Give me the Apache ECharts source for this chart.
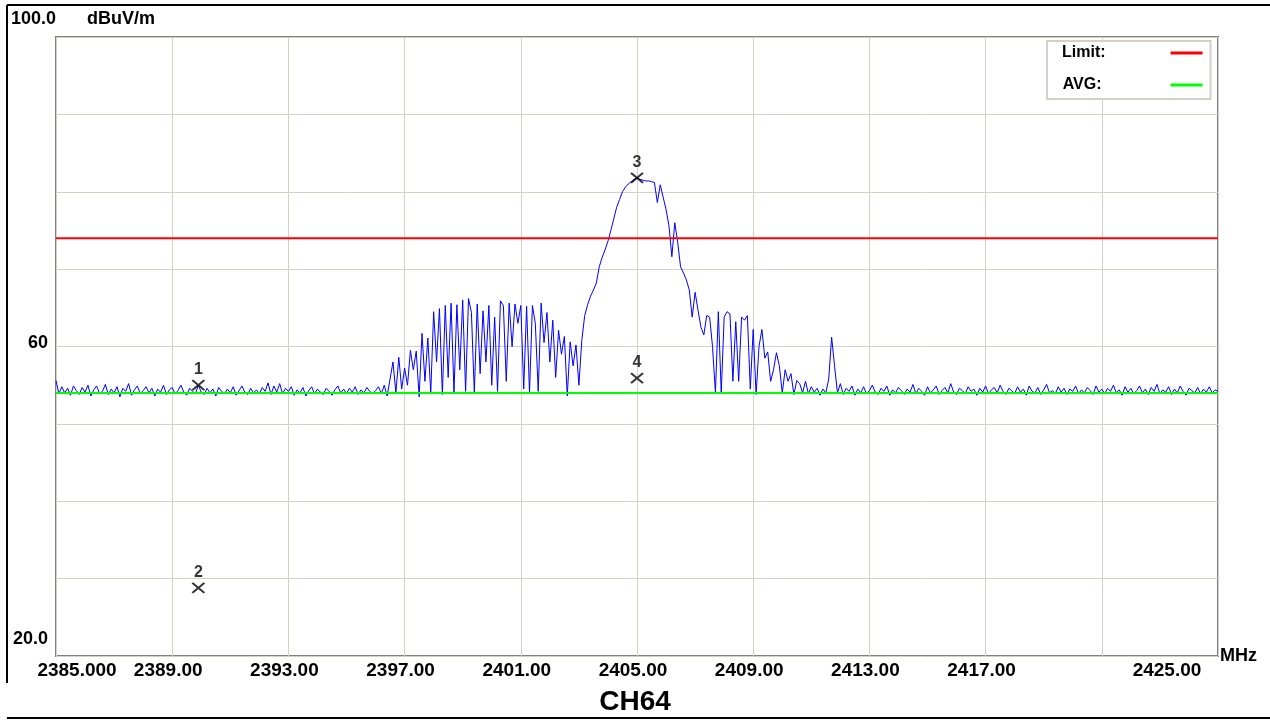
<!DOCTYPE html>
<html>
<head>
<meta charset="utf-8">
<script src="https://cdn.jsdelivr.net/npm/echarts@6/dist/echarts.min.js"></script>
<style>
  html, body { margin: 0; padding: 0; background: #fff; }
  #chart { width: 1270px; height: 720px; }
</style>
</head>
<body>
<div id="chart"></div>
<script>
// sweep is 0.1 MHz per point, split in three pieces
var STEP = 0.1;

// quiet floor, 2385.0 .. 2395.9 MHz
var FLOOR_LEFT_START = 2385.0;
var floorLeft = [
  55.6, 53.9, 54.8, 54.0, 54.6, 53.7, 54.9, 54.3, 53.8, 54.7,
  54.1, 55.0, 53.6, 54.4, 54.9, 53.9, 54.2, 55.1, 53.8, 54.5,
  54.0, 54.8, 53.5, 54.6, 54.2, 55.2, 53.7, 54.4, 54.9, 53.9,
  54.3, 54.8, 54.0, 54.6, 53.6, 54.5, 54.1, 55.0, 53.8, 54.4,
  54.7, 53.9, 54.3, 55.0, 54.1, 53.7, 54.6, 54.2, 53.9, 55.0,
  54.1, 53.8, 54.6, 54.0, 54.5, 53.6, 54.7, 54.2, 53.9, 54.5,
  54.0, 54.8, 53.7, 54.3, 54.9, 54.1, 53.8, 54.6, 54.0, 54.4,
  53.9, 54.7, 54.2, 55.3, 53.8, 54.9, 54.1, 55.2, 53.9, 54.6,
  54.2, 54.8, 53.7, 54.4, 54.0, 54.7, 53.6, 54.3, 54.8, 53.9,
  54.5, 54.1, 53.8, 54.6, 54.2, 53.7, 54.4, 54.9, 54.0, 54.5,
  53.9, 54.6, 54.1, 54.8, 53.8, 54.4, 54.0, 54.7, 54.2, 53.9
];

// occupied band, 2396.0 .. 2412.2 MHz
var ACTIVE_START = 2396.0;
var active = [
  54.3, 54.8, 53.9, 55.0, 53.6, 55.8, 58.0, 54.0, 58.6, 54.5,
  57.2, 55.0, 59.5, 57.0, 59.4, 53.5, 61.7, 55.5, 61.1, 54.0,
  64.5, 58.0, 64.9, 53.8, 65.3, 56.0, 65.6, 54.0, 65.4, 57.0,
  66.0, 54.2, 66.2, 64.4, 54.0, 65.5, 56.5, 64.6, 58.0, 65.3,
  55.0, 63.8, 54.2, 65.9, 65.3, 55.5, 65.6, 60.0, 65.5, 63.0,
  65.3, 54.5, 65.2, 54.0, 65.3, 63.0, 54.2, 65.6, 60.5, 64.4,
  58.0, 63.4, 56.0, 62.1, 59.0, 61.3, 53.6, 60.6, 57.5, 60.2,
  55.0, 60.8, 64.0, 65.4, 66.5, 67.3, 68.2, 70.3, 71.5, 72.5,
  73.6, 75.0, 76.5, 78.0, 79.0, 80.0, 80.6, 81.0, 81.3, 81.6,
  81.8, 81.6, 81.5, 81.4, 81.4, 81.3, 81.2, 78.6, 80.9, 79.3,
  77.7, 75.6, 71.6, 76.0, 73.5, 70.3, 69.5, 68.6, 67.3, 63.8,
  67.0, 64.7, 62.5, 61.5, 64.0, 63.8, 60.0, 54.0, 64.5, 54.0,
  63.8, 64.5, 64.2, 55.5, 63.2, 55.5, 63.8, 63.4, 64.0, 54.5,
  62.2, 53.8, 60.0, 62.2, 58.5, 59.3, 55.5, 57.0, 59.2, 57.5,
  54.0, 57.0, 55.5, 56.5, 53.8, 55.6, 55.2, 54.0, 55.5, 53.9,
  54.8, 54.1, 54.6, 53.7, 54.5, 54.0, 55.8, 61.2, 57.5, 54.0,
  55.2, 53.8, 54.6
];

// quiet floor, 2412.3 .. 2425.0 MHz
var FLOOR_RIGHT_START = 2412.3;
var floorRight = [
  54.2, 54.9, 53.7, 54.5, 54.0, 54.8, 53.9, 54.3, 55.0, 54.1,
  53.8, 54.6, 54.2, 54.9, 53.7, 54.4, 54.0, 54.7, 54.3, 53.8,
  54.5, 54.1, 55.1, 53.9, 54.6, 54.2, 53.7, 54.8, 54.0, 54.4,
  54.9, 53.8, 54.3, 54.7, 54.0, 55.2, 54.1, 53.8, 54.6, 54.3,
  53.9, 54.8, 54.2, 54.5, 53.7, 54.6, 54.1, 54.9, 53.9, 54.4,
  54.7, 54.0, 55.0, 54.2, 53.8, 54.6, 54.3, 53.9, 54.8, 54.1,
  54.5, 53.7, 54.9, 54.2, 54.0, 54.7, 53.8, 54.4, 55.1, 54.0,
  54.3, 53.9, 54.8, 54.1, 54.6, 53.8, 54.5, 54.2, 54.9, 53.9,
  54.4, 54.0, 54.7, 54.3, 53.8, 54.9, 54.1, 54.5, 53.9, 54.6,
  54.2, 55.0, 54.0, 54.4, 53.7, 54.8, 54.1, 54.6, 53.9, 54.3,
  54.9, 54.0, 54.5, 53.8, 54.7, 54.2, 55.1, 53.9, 54.4, 54.1,
  54.8, 53.8, 54.5, 54.0, 54.9, 54.2, 53.7, 54.6, 54.3, 54.0,
  54.7, 53.9, 54.5, 54.1, 54.8, 54.0, 54.4, 54.2
];

var LIMIT = 74;
var AVG = 54;

var markerFreq  = [2389.9, 2389.9, 2405.0, 2405.0];
var markerLevel = [55.0, 28.8, 81.8, 55.9];
var markerName  = ['1', '2', '3', '4'];

var FONT = '"Liberation Sans", Arial, sans-serif';

function toPairs(start, values) {
  var out = [];
  for (var i = 0; i < values.length; i++) {
    out.push([Math.round((start + i * STEP) * 10) / 10, values[i]]);
  }
  return out;
}

var trace = toPairs(FLOOR_LEFT_START, floorLeft)
  .concat(toPairs(ACTIVE_START, active))
  .concat(toPairs(FLOOR_RIGHT_START, floorRight));

var markers = [];
for (var m = 0; m < markerFreq.length; m++) {
  markers.push({ value: [markerFreq[m], markerLevel[m]], name: markerName[m] });
}

var myChart = echarts.init(document.getElementById('chart'), null, { renderer: 'canvas' });

var legendText = { fontFamily: FONT, fontSize: 16, fontWeight: 'bold', color: '#000' };

var option = {
  animation: false,
  backgroundColor: '#ffffff',
  title: {
    text: 'CH64',
    left: 'center',
    top: 683,
    textStyle: { fontFamily: FONT, fontSize: 28, fontWeight: 'bold', color: '#000' }
  },
  legend: {
    data: ['Limit', 'AVG'],
    orient: 'vertical',
    left: 1047,
    top: 41,
    align: 'right',
    selectedMode: false,
    icon: 'rect',
    itemWidth: 32,
    itemHeight: 3,
    itemGap: 16,
    padding: [4, 8, 6, 15],
    backgroundColor: '#fff',
    borderColor: '#d4d0c8',
    borderWidth: 2,
    formatter: function (name) {
      return name === 'Limit' ? '{a|Limit:}' : '{b|AVG:}';
    },
    textStyle: {
      fontFamily: FONT, fontSize: 16, fontWeight: 'bold', color: '#000',
      rich: {
        a: Object.assign({ padding: [0, 60, 0, 0] }, legendText),
        b: Object.assign({ padding: [0, 64, 0, 0] }, legendText)
      }
    }
  },
  grid: {
    left: 56,
    top: 37,
    width: 1162,
    height: 619,
    show: true,
    borderColor: '#808080',
    borderWidth: 2,
    backgroundColor: '#fff'
  },
  xAxis: {
    type: 'value',
    min: 2385,
    max: 2425,
    interval: 4,
    name: 'MHz',
    nameLocation: 'end',
    nameGap: 2,
    nameTextStyle: {
      fontFamily: FONT, fontSize: 18, fontWeight: 'bold', color: '#000',
      align: 'left', verticalAlign: 'middle', padding: [28, 0, 0, 0]
    },
    axisLine: { show: false },
    axisTick: { show: false },
    splitLine: { show: true, lineStyle: { color: '#d4d0c8', width: 1 } },
    axisLabel: {
      margin: 5,
      showMinLabel: true,
      showMaxLabel: true,
      formatter: function (v) {
        if (v === 2385) return '{f|2385.000}';
        if (v === 2421) return '';
        if (v === 2425) return '{l|2425.00}';
        return '{n|' + v.toFixed(2) + '}';
      },
      rich: {
        f: { fontFamily: FONT, fontSize: 19, fontWeight: 'bold', color: '#000', padding: [0, 0, 0, 42] },
        n: { fontFamily: FONT, fontSize: 19, fontWeight: 'bold', color: '#000', padding: [0, 8, 0, 0] },
        l: { fontFamily: FONT, fontSize: 19, fontWeight: 'bold', color: '#000', padding: [0, 102, 0, 0] }
      }
    }
  },
  yAxis: {
    type: 'value',
    min: 20,
    max: 100,
    interval: 10,
    axisLine: { show: false },
    axisTick: { show: false },
    splitLine: { show: true, lineStyle: { color: '#d4d0c8', width: 1 } },
    axisLabel: {
      margin: 8,
      showMinLabel: true,
      formatter: function (v) {
        if (v === 60) return '{a|60}';
        if (v === 20) return '{b|20.0}';
        return '';
      },
      rich: {
        a: { fontFamily: FONT, fontSize: 18, fontWeight: 'bold', color: '#000', padding: [0, 0, 6, 0] },
        b: { fontFamily: FONT, fontSize: 18, fontWeight: 'bold', color: '#000', padding: [0, 0, 33, 0] }
      }
    }
  },
  graphic: [
    { type: 'line', shape: { x1: 7, y1: 5, x2: 1270, y2: 5 }, style: { stroke: '#000', lineWidth: 2 } },
    { type: 'line', shape: { x1: 7, y1: 5, x2: 7, y2: 683 }, style: { stroke: '#000', lineWidth: 2 } },
    { type: 'line', shape: { x1: 7, y1: 718, x2: 1270, y2: 718 }, style: { stroke: '#000', lineWidth: 2 } },
    { type: 'text', left: 11, top: 10, style: { text: '100.0', font: 'bold 18px ' + FONT, fill: '#000' } },
    { type: 'text', left: 87, top: 10, style: { text: 'dBuV/m', font: 'bold 18px ' + FONT, fill: '#000' } }
  ],
  series: [
    {
      name: 'trace',
      type: 'line',
      data: trace,
      symbol: 'none',
      lineStyle: { color: '#0000ff', width: 1 },
      z: 2
    },
    {
      name: 'Limit',
      type: 'line',
      data: [[2385, LIMIT], [2425, LIMIT]],
      symbol: 'none',
      color: '#ff0000',
      lineStyle: { color: '#ff0000', width: 2 },
      z: 3
    },
    {
      name: 'AVG',
      type: 'line',
      data: [[2385, AVG], [2425, AVG]],
      symbol: 'none',
      color: '#00ff00',
      lineStyle: { color: '#00ff00', width: 2 },
      z: 3
    },
    {
      name: 'markers',
      type: 'scatter',
      data: markers,
      symbol: 'path://M0,0L12,9M12,0L0,9',
      symbolSize: [12, 10],
      itemStyle: { color: 'none', borderColor: '#000', borderWidth: 2 },
      label: {
        show: true,
        position: 'top',
        distance: 0,
        formatter: function (p) { return p.name; },
        fontFamily: FONT,
        fontSize: 16,
        fontWeight: 'bold',
        color: '#000'
      },
      z: 5
    }
  ]
};

myChart.setOption(option);
</script>
</body>
</html>
